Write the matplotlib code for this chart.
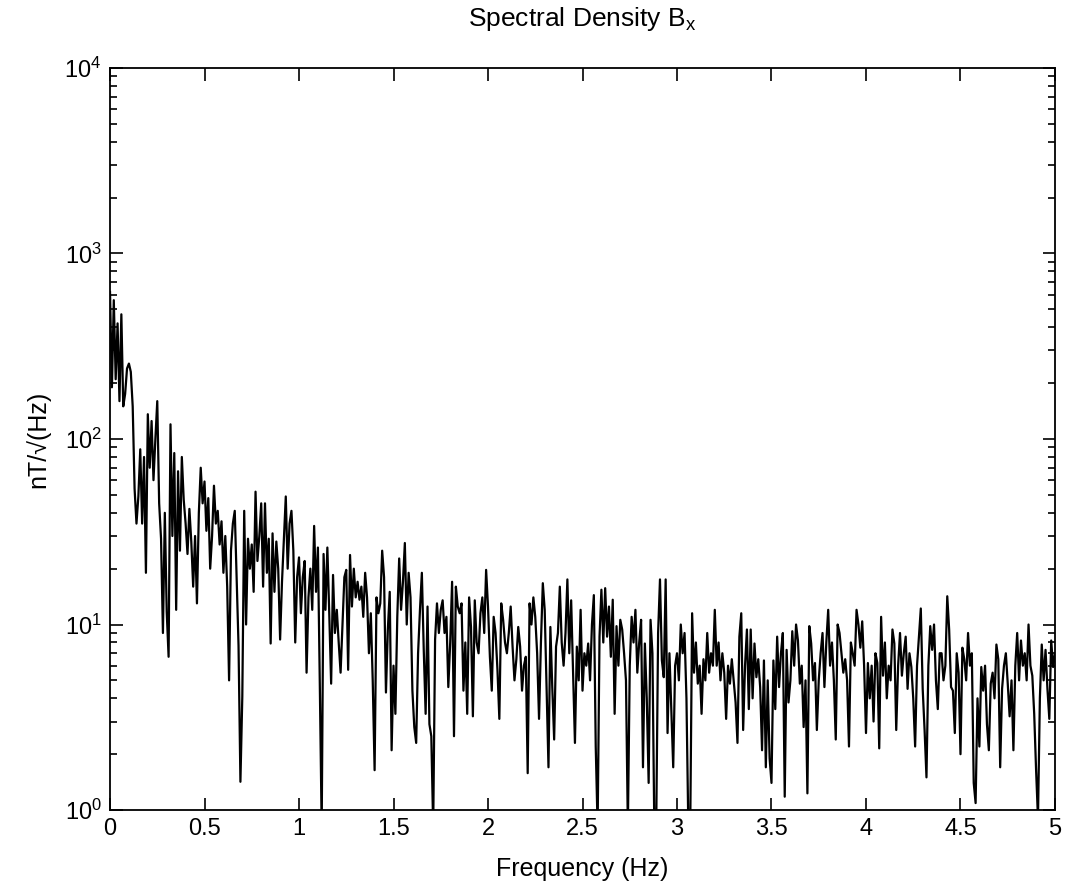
import matplotlib
matplotlib.use("Agg")
import matplotlib.pyplot as plt
import numpy as np
from matplotlib.ticker import LogLocator, NullFormatter

plt.rcParams['font.family'] = ['Liberation Sans', 'DejaVu Sans']
plt.rcParams['mathtext.fontset'] = 'custom'
plt.rcParams['mathtext.rm'] = 'Liberation Sans'

# frequency step of the spectrum (Hz)
df = 0.01

# spectral density values (nT/sqrt(Hz)), one per 0.01 Hz, 0 .. 5 Hz
psd = [
    620, 190, 560, 210, 420, 160, 470, 150, 175, 240,
    255, 230, 150, 54, 35, 49, 88, 35, 80, 19,
    136, 70, 125, 60, 100, 160, 45, 29, 9, 40,
    11.7, 6.7, 120, 30, 84, 12, 67, 25, 80, 47,
    35, 24, 42, 28, 16, 30, 13, 40, 70, 45,
    59, 32, 48, 20, 30, 56, 35, 41, 27, 36,
    19, 30, 16, 5, 25, 35, 41, 18, 7.7, 1.42,
    4.1, 41, 10, 29, 20, 27, 15, 52, 22, 30,
    45, 16, 45, 19, 29, 7.9, 31, 15, 28, 20,
    8.3, 17, 29, 49, 20, 35, 41, 25, 8, 18,
    23, 11.5, 18, 22, 5.5, 14, 20, 12, 34, 15,
    26, 4.8, 0.8, 24, 12, 26, 11.5, 4.8, 18.5, 9,
    12, 8, 5.5, 10, 18, 19.7, 5.7, 23.7, 12.5, 20,
    14, 17, 13.6, 16, 11, 19, 14, 7, 11.5, 5,
    1.64, 14, 11.5, 13, 25, 18, 4.3, 9.4, 15, 2.1,
    6, 3.3, 11, 22.7, 12, 17, 27.5, 10, 19, 14,
    4.4, 2.8, 2.3, 7, 12, 19, 7.3, 3.3, 12.5, 2.9,
    2.5, 0.8, 8.3, 13, 9, 12, 13.5, 9, 11, 4.6,
    8, 17, 2.5, 16, 12.5, 11.5, 13, 4.4, 8, 3.3,
    14, 9.7, 3.2, 13.5, 8, 7, 11.5, 14, 9, 19.7,
    12.5, 6.7, 4.4, 11, 9, 5.7, 3.1, 13, 10.6, 8,
    7, 9, 12.5, 7.6, 5, 6.5, 9.7, 7.6, 4.4, 6,
    6.7, 1.58, 13, 10, 14, 11, 7, 3.1, 8, 16.7,
    12, 4.4, 1.7, 9.7, 4.6, 2.4, 7.6, 9, 16, 8,
    6, 9, 17.5, 7, 13.5, 5.5, 2.3, 7.6, 5, 12,
    4.4, 7, 6, 7.9, 5, 10, 14.4, 2.2, 0.8, 8.6,
    15.4, 8, 15.7, 8.6, 12.5, 6.7, 13.6, 3.3, 9.8, 6,
    10.6, 9.4, 7, 5.0, 0.8, 6, 11, 8, 12, 5.5,
    8, 10.6, 1.7, 7.9, 4, 1.4, 10.6, 7, 0.8, 0.8,
    9, 17.5, 6.4, 5.2, 17.5, 2.6, 7, 3.5, 1.7, 6,
    7, 5, 10, 7, 9, 4, 0.8, 0.8, 11.5, 5.5,
    8, 4.8, 6, 3.3, 6.5, 5, 9, 5.5, 7, 6,
    12, 6, 8, 5, 7, 5.5, 3.1, 6, 4.8, 6.5,
    5, 3.8, 2.3, 8.6, 11.5, 2.7, 6, 9.4, 3.5, 9.4,
    4, 7.9, 5.2, 6.5, 4.6, 2.1, 6.4, 1.7, 5, 1.9,
    1.4, 6.4, 3.5, 8.6, 4.6, 7, 9, 1.18, 7.3, 3.8,
    5, 9.2, 6, 10, 8.2, 4.8, 6, 2.8, 5, 1.23,
    9.8, 7.9, 5, 6.2, 2.7, 5, 7, 9, 4.6, 8,
    12, 6, 8, 5, 2.4, 10, 9, 7, 5.5, 6.5,
    5, 2.2, 8, 7, 6, 12, 10, 7.5, 10.4, 6,
    2.6, 6.2, 4, 6, 3, 7, 6.2, 2.15, 11, 5.3,
    8, 4, 6, 5, 9.4, 7.9, 2.7, 6, 9, 5.3,
    7, 8.6, 4.5, 7, 5.9, 4, 2.2, 6, 8.6, 12.2,
    4.5, 2.7, 1.5, 6, 9.8, 7.3, 10, 5, 3.5, 7,
    7, 5, 6, 14.2, 9.4, 4.6, 4.4, 2.6, 7, 5.5,
    2, 7.5, 6.5, 5, 9, 6, 7, 1.4, 1.09, 4,
    2.2, 5.9, 4.4, 6, 2.9, 2.1, 4.8, 5.5, 4, 7.8,
    6.5, 1.7, 4.5, 6, 7, 4.8, 3.2, 5, 2.1, 6,
    9, 5, 8.2, 6, 7, 5, 10, 6, 5.3, 3.3,
    1.64, 0.9, 4, 7.8, 5, 7.3, 4.5, 3.1, 8.2, 5.9,
    7,
]

xticks = [0, 0.5, 1, 1.5, 2, 2.5, 3, 3.5, 4, 4.5, 5]
xticklabels = ['0', '0.5', '1', '1.5', '2', '2.5', '3', '3.5', '4', '4.5', '5']
yticks = [1, 10, 100, 1000, 10000]
yticklabels = ['$\\mathregular{10^{0}}$', '$\\mathregular{10^{1}}$', '$\\mathregular{10^{2}}$',
               '$\\mathregular{10^{3}}$', '$\\mathregular{10^{4}}$']

freq = np.arange(len(psd)) * df

fig = plt.figure(figsize=(10.65, 8.92), dpi=100)
ax = fig.add_axes([0.1033, 0.0919, 0.8873, 0.8319])

ax.semilogy(freq, psd, color='black', linewidth=1.6)

ax.set_xlim(0, 5)
ax.set_ylim(1, 1e4)
ax.set_xticks(xticks)
ax.set_xticklabels(xticklabels)
ax.set_yticks(yticks)
ax.set_yticklabels(yticklabels)
ax.yaxis.set_minor_locator(LogLocator(base=10, subs=np.arange(2, 10)))
ax.yaxis.set_minor_formatter(NullFormatter())

ax.tick_params(which='both', direction='in', top=True, right=True,
               labelsize=17, width=1.2, color='black')
ax.tick_params(which='major', length=9, pad=6)
ax.tick_params(which='minor', length=5)
for s in ax.spines.values():
    s.set_linewidth(1.3)

ax.set_title('Spectral Density B$_\\mathregular{x}$', fontsize=19, pad=30)
ax.set_xlabel('Frequency (Hz)', fontsize=18, labelpad=12)
ax.set_ylabel('nT/√(Hz)', fontsize=18, labelpad=10)

fig.savefig('out.png', dpi=100, facecolor='white')
